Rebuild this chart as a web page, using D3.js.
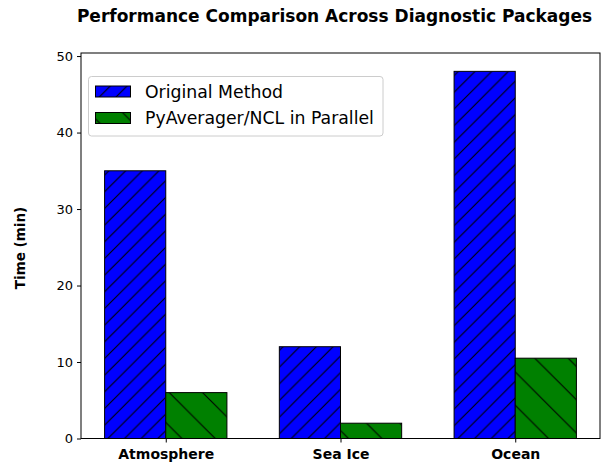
<!DOCTYPE html>
<html>
<head>
<meta charset="utf-8">
<script src="https://cdn.jsdelivr.net/npm/d3@7"></script>
<style>
  html, body { margin: 0; padding: 0; background: #fff; }
  svg { display: block; }
  text { font-family: "DejaVu Sans", sans-serif; }
</style>
</head>
<body>
<svg id="chart" width="604" height="466"></svg>
<script>
const categories = ["Atmosphere", "Sea Ice", "Ocean"];
const seriesNames = ["Original Method", "PyAverager/NCL in Parallel"];
const originalMethod = [35, 12, 48];
const pyAverager = [6, 2, 10.5];
const yTicks = [0, 10, 20, 30, 40, 50];

const W = 604, H = 466;
const margin = { left: 81, right: 4, top: 53, bottom: 27.5 };
const svg = d3.select("#chart");
const plotW = W - margin.left - margin.right;
const plotH = H - margin.top - margin.bottom;

const series = [
  { name: seriesNames[0], values: originalMethod, fill: "#0000ff", hatch: "fwd", offset: -0.175 },
  { name: seriesNames[1], values: pyAverager, fill: "#008000", hatch: "back", offset: 0.175 }
];

const barW = 0.35;
const x = d3.scaleLinear().domain([-0.485, 2.485]).range([margin.left, margin.left + plotW]);
const y = d3.scaleLinear().domain([0, 50.4]).range([margin.top + plotH, margin.top]);

// hatch patterns
const defs = svg.append("defs");
const d1 = 16.67;
const p1 = defs.append("pattern").attr("id", "hatch-fwd")
  .attr("patternUnits", "userSpaceOnUse").attr("width", d1).attr("height", d1)
  .attr("x", 13).attr("y", 0);
p1.append("rect").attr("width", d1).attr("height", d1).attr("fill", "#0000ff");
p1.append("path").attr("d", `M${-d1},${d1} L${d1},${-d1} M0,${d1} L${d1},0 M0,${2*d1} L${2*d1},0`)
  .attr("stroke", "#000").attr("stroke-width", 1.1);
const d2 = 33.33;
const p2 = defs.append("pattern").attr("id", "hatch-back")
  .attr("patternUnits", "userSpaceOnUse").attr("width", d2).attr("height", d2)
  .attr("x", 10).attr("y", 0);
p2.append("rect").attr("width", d2).attr("height", d2).attr("fill", "#008000");
p2.append("path").attr("d", `M${-d2},0 L${d2},${2*d2} M0,0 L${d2},${d2} M0,${-d2} L${2*d2},${d2}`)
  .attr("stroke", "#000").attr("stroke-width", 1.1);

// bars
series.forEach(s => {
  svg.append("g").selectAll("rect").data(s.values).join("rect")
    .attr("x", (d, i) => x(i + s.offset - barW / 2))
    .attr("width", x(barW) - x(0))
    .attr("y", d => y(d))
    .attr("height", d => y(0) - y(d))
    .attr("fill", `url(#hatch-${s.hatch})`)
    .attr("stroke", "#000").attr("stroke-width", 1);
});

// axes
const yAxis = d3.axisLeft(y).tickValues(yTicks).tickSize(4).tickPadding(4).tickFormat(d3.format("d"));
const gy = svg.append("g").attr("transform", `translate(${margin.left},0)`).call(yAxis);
gy.select(".domain").remove();
gy.selectAll("text").attr("font-size", 13).attr("fill", "#000").attr("font-family", "DejaVu Sans");
gy.selectAll("line").attr("stroke", "#000");

const xAxis = d3.axisBottom(x).tickValues([0, 1, 2]).tickSize(4).tickPadding(7)
  .tickFormat(i => categories[i]);
const gx = svg.append("g").attr("transform", `translate(0,${margin.top + plotH})`).call(xAxis);
gx.select(".domain").remove();
gx.selectAll("text").attr("font-size", 14).attr("font-weight", "bold").attr("fill", "#000")
  .attr("font-family", "DejaVu Sans");
gx.selectAll("line").attr("stroke", "#000");

// frame
svg.append("rect").attr("x", margin.left).attr("y", margin.top)
  .attr("width", plotW).attr("height", plotH)
  .attr("fill", "none").attr("stroke", "#000").attr("stroke-width", 1);

// title
svg.append("text").attr("x", 334.5).attr("y", 22).attr("text-anchor", "middle")
  .attr("font-size", 17).attr("font-weight", "bold").text("Performance Comparison Across Diagnostic Packages");

// y label
svg.append("text").attr("transform", `translate(25,${248}) rotate(-90)`)
  .attr("text-anchor", "middle").attr("font-size", 13.5).attr("font-weight", "bold")
  .text("Time (min)");

// legend
const lg = svg.append("g");
lg.append("rect").attr("x", 88.5).attr("y", 76.5).attr("width", 294.5).attr("height", 59.5)
  .attr("rx", 3).attr("fill", "#fff").attr("fill-opacity", 0.8)
  .attr("stroke", "#ccc").attr("stroke-width", 1);
series.forEach((s, i) => {
  const yy = 86 + i * 26.5;
  lg.append("rect").attr("x", 95.5).attr("y", yy).attr("width", 35).attr("height", 11)
    .attr("fill", `url(#hatch-${s.hatch})`).attr("stroke", "#000").attr("stroke-width", 1);
  lg.append("text").attr("x", 145).attr("y", yy + 11.5).attr("font-size", 17.3).text(s.name);
});
</script>
</body>
</html>
